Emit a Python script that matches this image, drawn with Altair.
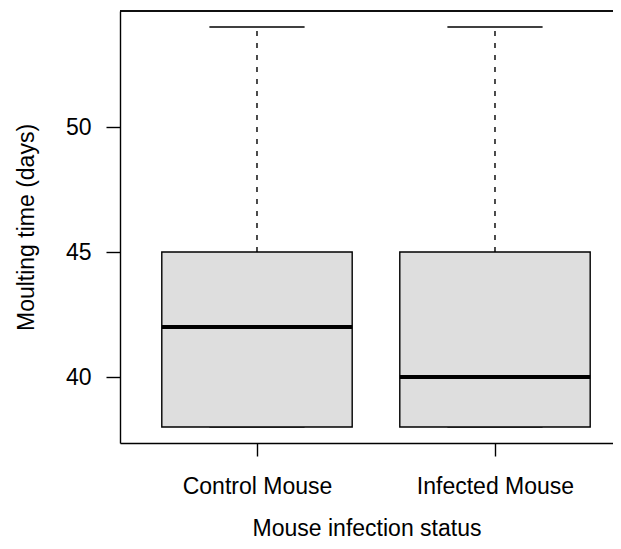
import altair as alt
import pandas as pd

# ---- data ----
groups = ["Control Mouse", "Infected Mouse"]
positions = [1, 2]
whisker_low = [38, 38]
q1 = [38, 38]
medians = [42, 40]
q3 = [45, 45]
whisker_high = [54, 54]
y_ticks = [40, 45, 50]

df = pd.DataFrame({
    "group": groups,
    "pos": positions,
    "lo": whisker_low,
    "q1": q1,
    "med": medians,
    "q3": q3,
    "hi": whisker_high,
})

VIEW_W = 493
XDOM = [0.4244, 0.4244 + VIEW_W / 238.0]
YDOM = [37.36, 54.64]
FONT = "Liberation Sans"
FS = 23
LW = 1.4
label_expr = "[" + ",".join("'" + g + "'" for g in groups) + "][datum.value - 1]"

xaxis = alt.Axis(
    values=positions, labelExpr=label_expr, title="Mouse infection status",
    grid=False, domain=True, domainColor="black", domainWidth=LW,
    ticks=True, tickColor="black", tickWidth=LW, tickSize=13,
    labelFont=FONT, labelFontSize=FS, labelColor="black", labelPadding=37,
    labelBaseline="alphabetic", labelFlush=False, labelOverlap=False,
    titleFont=FONT, titleFontSize=FS, titleFontWeight="normal", titleColor="black",
    titleBaseline="alphabetic", titleY=92,
)
yaxis = alt.Axis(
    values=y_ticks, title="Moulting time (days)",
    grid=False, domain=True, domainColor="black", domainWidth=LW,
    ticks=True, tickColor="black", tickWidth=LW, tickSize=14,
    labelFont=FONT, labelFontSize=FS, labelColor="black", labelPadding=15,
    labelFlush=False, labelOverlap=False,
    titleFont=FONT, titleFontSize=FS, titleFontWeight="normal", titleColor="black",
    titleAngle=270, titleBaseline="alphabetic", titleAlign="center",
    titleX=-87, titleY=216,
)


def xenc(field):
    return alt.X(f"{field}:Q", scale=alt.Scale(domain=XDOM, nice=False, zero=False), axis=xaxis)


def yenc(field):
    return alt.Y(f"{field}:Q", scale=alt.Scale(domain=YDOM, nice=False, zero=False), axis=yaxis)


base = alt.Chart(df).transform_calculate(
    bx1="datum.pos - 0.4", bx2="datum.pos + 0.4",
    cx1="datum.pos - 0.2", cx2="datum.pos + 0.2",
)

whisk_up = base.mark_rule(color="black", strokeWidth=LW, strokeDash=[5, 7]).encode(
    x=xenc("pos"), y=yenc("q3"), y2="hi:Q")
whisk_dn = base.mark_rule(color="black", strokeWidth=LW, strokeDash=[5, 7]).encode(
    x=xenc("pos"), y=yenc("lo"), y2="q1:Q")
cap_up = base.mark_rule(color="black", strokeWidth=LW).encode(
    x=xenc("cx1"), x2="cx2:Q", y=yenc("hi"))
cap_dn = base.mark_rule(color="#444444", strokeWidth=LW).encode(
    x=xenc("cx1"), x2="cx2:Q", y=yenc("lo"))
box = base.mark_rect(fill="#dedede", stroke="black", strokeWidth=LW).encode(
    x=xenc("bx1"), x2="bx2:Q", y=yenc("q1"), y2="q3:Q")
med = base.mark_rule(color="black", strokeWidth=3.8).encode(
    x=xenc("bx1"), x2="bx2:Q", y=yenc("med"))
top = alt.Chart(df).mark_rule(color="black", strokeWidth=LW).encode(
    x=alt.value(0), x2=alt.value(VIEW_W), y=alt.value(0))

chart = alt.layer(whisk_up, whisk_dn, cap_up, cap_dn, box, med, top).properties(
    width=VIEW_W, height=432,
    autosize=alt.AutoSizeParams(type="none"),
    padding={"left": 112, "top": 3, "right": 0, "bottom": 98},
    background="white",
).configure_view(stroke=None)

chart.save("out.html", embed_options={"renderer": "svg", "actions": False})
